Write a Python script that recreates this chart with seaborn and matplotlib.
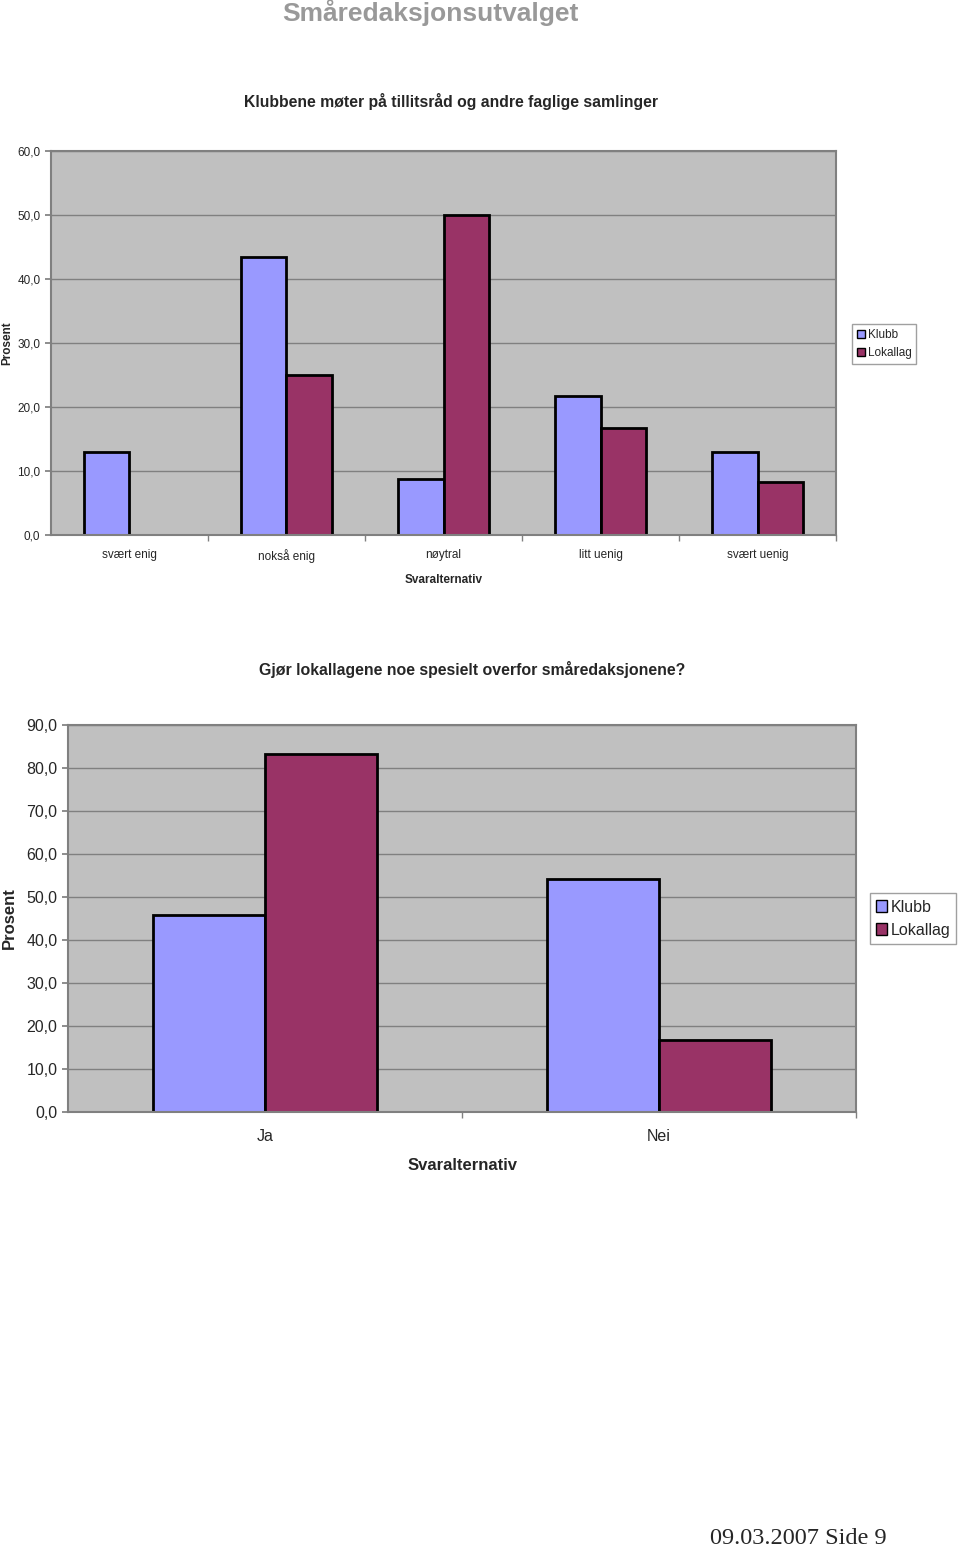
import numpy as np
import pandas as pd
import seaborn as sns
import matplotlib.pyplot as plt
from matplotlib.ticker import FixedLocator, FuncFormatter

# chart 1 data
cats1 = ["svært enig", "nokså enig", "nøytral", "litt uenig", "svært uenig"]
klubb1 = [13.0, 43.5, 8.7, 21.7, 13.0]
lokal1 = [0.0, 25.0, 50.0, 16.7, 8.3]

# chart 2 data
cats2 = ["Ja", "Nei"]
klubb2 = [45.8, 54.2]
lokal2 = [83.3, 16.7]

series = ["Klubb", "Lokallag"]
colors = ["#9999FF", "#993366"]

sns.set_theme(style="white")
plt.rcParams['font.family'] = ['Liberation Sans', 'DejaVu Sans']


def long_df(cats, a, b):
    return pd.DataFrame({
        "cat": cats * 2,
        "serie": [series[0]] * len(cats) + [series[1]] * len(cats),
        "val": list(a) + list(b),
    })


def comma(v, pos):
    return f"{v:.1f}".replace(".", ",")


def style_axes(ax, cats, ymax, step, tick_fs, lab_fs, xpad, ylab_x, legend_xy, leg_fs):
    ax.set_facecolor("#C0C0C0")
    ax.set_ylim(0, ymax)
    ax.set_xlim(-0.5, len(cats) - 0.5)
    ax.yaxis.set_major_locator(FixedLocator(np.arange(0, ymax + 0.1, step)))
    ax.yaxis.set_major_formatter(FuncFormatter(comma))
    ax.grid(axis="y", color="#808080", lw=1)
    ax.set_axisbelow(True)
    for s in ax.spines.values():
        s.set_color("#808080")
        s.set_linewidth(1.5)
    ax.tick_params(axis="y", length=4, color="#808080", labelsize=tick_fs, left=True)
    ax.tick_params(axis="x", length=0, labelsize=tick_fs, pad=xpad)
    ax.set_xticks(np.arange(len(cats)) + 0.5, minor=True)
    ax.tick_params(axis="x", which="minor", length=4, color="#808080", bottom=True)
    ax.set_ylabel("Prosent", fontsize=lab_fs, fontweight="bold")
    ax.yaxis.set_label_coords(ylab_x, 0.5)
    ax.set_xlabel("Svaralternativ", fontsize=lab_fs, fontweight="bold", labelpad=8)
    h, l = ax.get_legend_handles_labels()
    leg = ax.legend(h, l, loc="center", bbox_to_anchor=legend_xy, bbox_transform=ax.figure.transFigure,
                    fontsize=leg_fs, handlelength=0.7, handleheight=0.7, handletextpad=0.2,
                    fancybox=False, edgecolor="#A0A0A0", framealpha=1, borderpad=0.4, labelspacing=0.5)
    for p in leg.get_patches():
        p.set_linewidth(1)


fig = plt.figure(figsize=(9.6, 15.49), dpi=100)

fig.text(0.448, 0.992, "Småredaksjonsutvalget", ha="center", va="center",
         fontsize=19, fontweight="bold", color="#999999")

# chart 1
ax1 = fig.add_axes([0.053, 0.6546, 0.818, 0.2479])
sns.barplot(data=long_df(cats1, klubb1, lokal1), x="cat", y="val", hue="serie",
            palette=colors, width=0.575, edgecolor="black", linewidth=2,
            saturation=1, ax=ax1)
style_axes(ax1, cats1, 60, 10, 8.5, 8.5, 10, -0.048, (0.921, 0.778), 8.5)
ax1.set_title("Klubbene møter på tillitsråd og andre faglige samlinger",
              fontsize=11.3, fontweight="bold", pad=32, x=0.51)

# chart 2
ax2 = fig.add_axes([0.0708, 0.2821, 0.821, 0.2498])
sns.barplot(data=long_df(cats2, klubb2, lokal2), x="cat", y="val", hue="serie",
            palette=colors, width=0.57, edgecolor="black", linewidth=2,
            saturation=1, ax=ax2)
style_axes(ax2, cats2, 90, 10, 11.5, 12, 12, -0.065, (0.951, 0.407), 11.5)
ax2.xaxis.labelpad = 10
ax2.set_title("Gjør lokallagene noe spesielt overfor småredaksjonene?",
              fontsize=11.4, fontweight="bold", pad=36, x=0.513)

fig.text(0.832, 0.003, "09.03.2007 Side 9", ha="center", va="baseline",
         fontsize=17.5, family=["Liberation Serif", "DejaVu Serif"])

fig.savefig("out.png", dpi=100)
